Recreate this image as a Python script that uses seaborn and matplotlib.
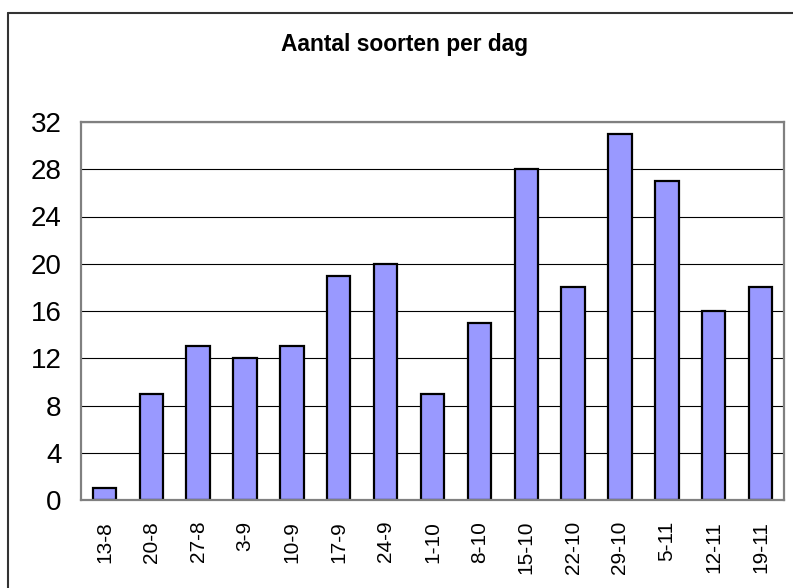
import pandas as pd
import matplotlib
matplotlib.use("Agg")
import matplotlib.pyplot as plt
import seaborn as sns
from matplotlib.lines import Line2D

# Aantal soorten per dag
datums = ["13-8", "20-8", "27-8", "3-9", "10-9", "17-9", "24-9", "1-10",
          "8-10", "15-10", "22-10", "29-10", "5-11", "12-11", "19-11"]
soorten = [1, 9, 13, 12, 13, 19, 20, 9, 15, 28, 18, 31, 27, 16, 18]
y_ticks = [0, 4, 8, 12, 16, 20, 24, 28, 32]

df = pd.DataFrame({"datum": datums, "soorten": soorten})

sns.set_style("white")
plt.rcParams["font.family"] = ["Liberation Sans", "DejaVu Sans"]
plt.rcParams["text.color"] = "black"
plt.rcParams["xtick.color"] = "black"
plt.rcParams["ytick.color"] = "black"

W, H = 793, 588
fig = plt.figure(figsize=(W / 100, H / 100), dpi=100)
ax = fig.add_axes([81 / W, 1 - 500 / H, (784 - 81) / W, (500 - 122) / H])

sns.barplot(data=df, x="datum", y="soorten", ax=ax, color="#9999FF",
            saturation=1, width=0.5, edgecolor="black", linewidth=1.6)

ax.set_ylim(0, 32)
ax.set_yticks(y_ticks)
ax.set_xlim(-0.5, len(datums) - 0.5)
ax.yaxis.grid(True, color="black", linewidth=0.8)
ax.set_axisbelow(True)
for s in ax.spines.values():
    s.set_color("#808080")
    s.set_linewidth(1.6)
ax.tick_params(axis="y", labelsize=20, length=0, pad=14)
ax.tick_params(axis="x", labelsize=15, length=0, pad=15, labelrotation=90)
ax.set_xlabel("")
ax.set_ylabel("")

fig.text(404 / W, 1 - 45 / H, "Aantal soorten per dag", ha="center",
         va="center", fontsize=16.4, fontweight="bold", color="black")

# buitenrand van de grafiek
fig.add_artist(Line2D([8 / W, 8 / W], [0, 1 - 13 / H], color="#333333",
                      linewidth=1.5, transform=fig.transFigure))
fig.add_artist(Line2D([8 / W, 1], [1 - 13 / H, 1 - 13 / H], color="#333333",
                      linewidth=1.5, transform=fig.transFigure))

fig.savefig("out.png", dpi=100)
